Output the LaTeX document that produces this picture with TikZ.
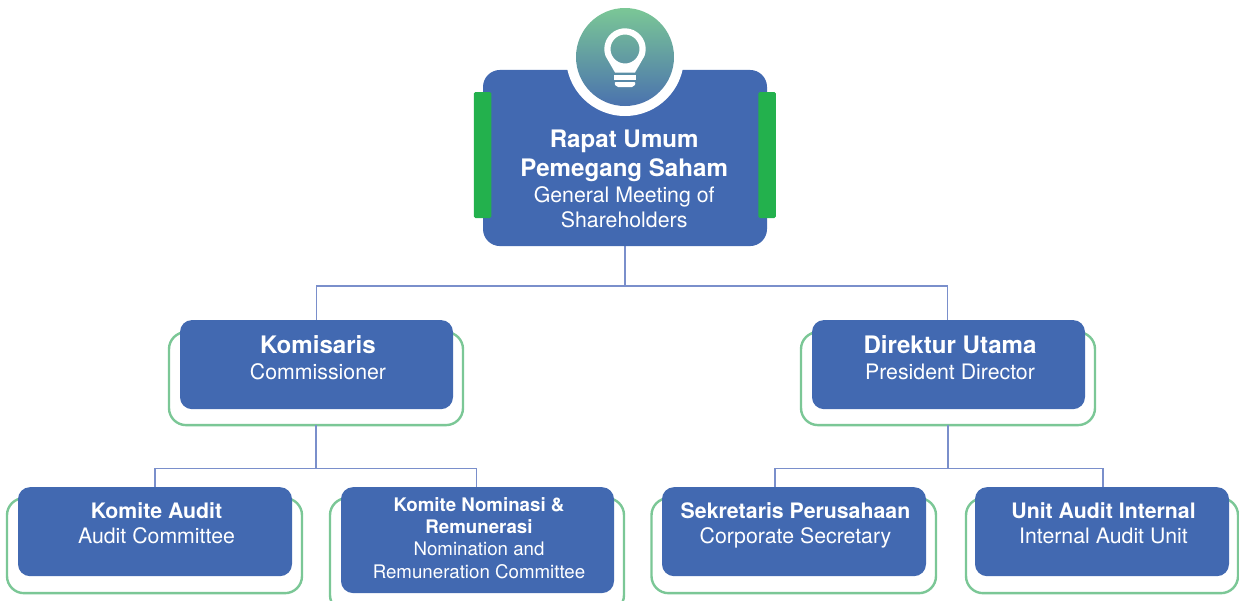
\documentclass[tikz,border=0pt]{standalone}
\usepackage{fontspec}
\setmainfont{TeX Gyre Heros}
\usetikzlibrary{positioning,backgrounds}

\definecolor{boxblue}{HTML}{4269B1}
\definecolor{barGreen}{HTML}{23B14D}
\definecolor{ringGreen}{HTML}{7BC796}
\definecolor{linkBlue}{HTML}{7A8FCB}
\definecolor{bulbBottom}{HTML}{4A72AE}

\newcommand{\padtop}[1]{\rule{0pt}{#1pt}}
\newcommand{\padbot}[1]{\rule[-#1pt]{0pt}{#1pt}}
\newcommand{\nudge}{\hspace*{3pt}}
\newcommand{\nudgeback}{\hspace*{-1.6pt}}
\newcommand{\headA}[1]{{\fontsize{24.1}{24}\selectfont\bfseries #1}}
\newcommand{\headB}[1]{{\fontsize{21.3}{21}\selectfont\bfseries #1}}
\newcommand{\headC}[1]{{\fontsize{18.7}{18.5}\selectfont\bfseries #1}}

\tikzset{
  orgbox/.style={fill=boxblue,text=white,rounded corners=12pt,align=center,
    inner xsep=0pt,inner ysep=0pt,outer sep=0pt,
    font=\fontsize{21.3}{25.4}\selectfont},
  ringbox/.style={draw=ringGreen,fill=white,line width=2.4pt,rounded corners=17pt,
    outer sep=0pt,inner sep=0pt},
  sidebar/.style={fill=barGreen,rounded corners=1.5pt,minimum width=17.5pt,
    minimum height=126pt,inner sep=0pt,outer sep=0pt},
  link/.style={draw=linkBlue,line width=1.2pt}
}

\begin{document}
\begin{tikzpicture}[x=1pt,y=-1pt]
  \useasboundingbox (0,0) rectangle (1239,600);

  \node[orgbox,minimum width=284pt,rounded corners=17pt] (rups) at (625,158)
    {\padtop{78}\nudgeback\headA{Rapat Umum}\\[3.6pt]
     \nudgeback\headA{Pemegang Saham}\\
     \nudgeback General Meeting of\\
     \nudgeback Shareholders\padbot{18.3}};

  \node[sidebar] (barL) at ([yshift=3pt,xshift=-0.3pt]rups.west) {};
  \node[sidebar] (barR) at ([yshift=3pt]rups.east) {};

  \node[circle,fill=white,minimum size=118pt,inner sep=0pt] (halo) at (625,57) {};
  \node[circle,top color=ringGreen,bottom color=bulbBottom,minimum size=98pt,inner sep=0pt] (bulb) at (halo.center) {};

  % lamp icon
  \begin{scope}[shift={(bulb.center)},x=1pt,y=1pt]
    \fill[white,even odd rule] (-10,-15.5) -- (-19.45,0.92) arc[start angle=200,end angle=-20,radius=20.7]
      -- (10,-15.5) -- cycle (0,8) circle[radius=14.5];
    \fill[white] (-11,-18) rectangle (11,-23);
    \fill[white,rounded corners=2pt] (-11,-25) -- (11,-25) -- (9,-30) -- (-9,-30) -- cycle;
  \end{scope}

  % second row
  \node[orgbox,minimum width=273pt,below=74pt of rups,xshift=-308.5pt] (komisaris)
    {\padtop{33.7}\nudge\headA{Komisaris}\\\nudge Commissioner\padbot{30}};
  \node[orgbox,minimum width=273pt,below=74pt of rups,xshift=323.5pt] (direktur)
    {\padtop{33.7}\nudge\headA{Direktur Utama}\\\nudge President Director\padbot{30}};

  % third row
  \node[orgbox,minimum width=274pt,below=78pt of komisaris,xshift=-161.5pt] (audit)
    {\padtop{31.2}\nudge\headB{Komite Audit}\\\nudge Audit Committee\padbot{32.4}};
  \node[orgbox,minimum width=273pt,below=78pt of komisaris,xshift=161pt,
        font=\fontsize{18.7}{22.4}\selectfont] (nominasi)
    {\padtop{24}\nudge\headC{Komite Nominasi \&}\\\nudge\headC{Remunerasi}\\
     \nudge Nomination and\\\nudge Remuneration Committee\padbot{14.7}};
  \node[orgbox,minimum width=264pt,below=78pt of direktur,xshift=-154.5pt] (sekretaris)
    {\padtop{31.2}\nudge\headB{Sekretaris Perusahaan}\\\nudge Corporate Secretary\padbot{32.4}};
  \node[orgbox,minimum width=254pt,below=78pt of direktur,xshift=153.5pt] (unit)
    {\padtop{31.2}\nudge\headB{Unit Audit Internal}\\\nudge Internal Audit Unit\padbot{32.4}};

  \begin{pgfonlayer}{background}
    % green frames behind the boxes
    \node[ringbox,minimum width=294pt,minimum height=93pt] (komisarisR) at ([xshift=-0.5pt,yshift=-14pt]komisaris.center) {};
    \node[ringbox,minimum width=294pt,minimum height=93pt] (direkturR) at ([xshift=-0.5pt,yshift=-14pt]direktur.center) {};
    \node[ringbox,minimum width=295pt,minimum height=95pt] (auditR) at ([xshift=-0.5pt,yshift=-14pt]audit.center) {};
    \node[ringbox,minimum width=294pt,minimum height=114pt] (nominasiR) at ([xshift=-0.5pt,yshift=-15pt]nominasi.center) {};
    \node[ringbox,minimum width=284.5pt,minimum height=95pt] (sekretarisR) at ([xshift=-0.25pt,yshift=-14pt]sekretaris.center) {};
    \node[ringbox,minimum width=272pt,minimum height=95pt] (unitR) at ([yshift=-14pt]unit.center) {};

    \coordinate[below=40pt of rups.south] (rupsBus);
    \coordinate[below=43pt of komisarisR.south] (komisarisBus);
    \coordinate[below=43pt of direkturR.south] (direkturBus);

    \draw[link] (rups.south) -- (rupsBus);
    \draw[link] (rupsBus) -| (komisaris.north);
    \draw[link] (rupsBus) -| ([xshift=-1pt]direktur.north);
    \draw[link] (komisarisR.south) -- (komisarisBus);
    \draw[link] (komisarisBus) -| (audit.north);
    \draw[link] (komisarisBus) -| ([xshift=-1pt]nominasi.north);
    \draw[link] (direkturR.south) -- (direkturBus);
    \draw[link] (direkturBus) -| ([xshift=-19pt]sekretaris.north);
    \draw[link] (direkturBus) -| ([xshift=1pt]unit.north);
  \end{pgfonlayer}
\end{tikzpicture}
\end{document}
